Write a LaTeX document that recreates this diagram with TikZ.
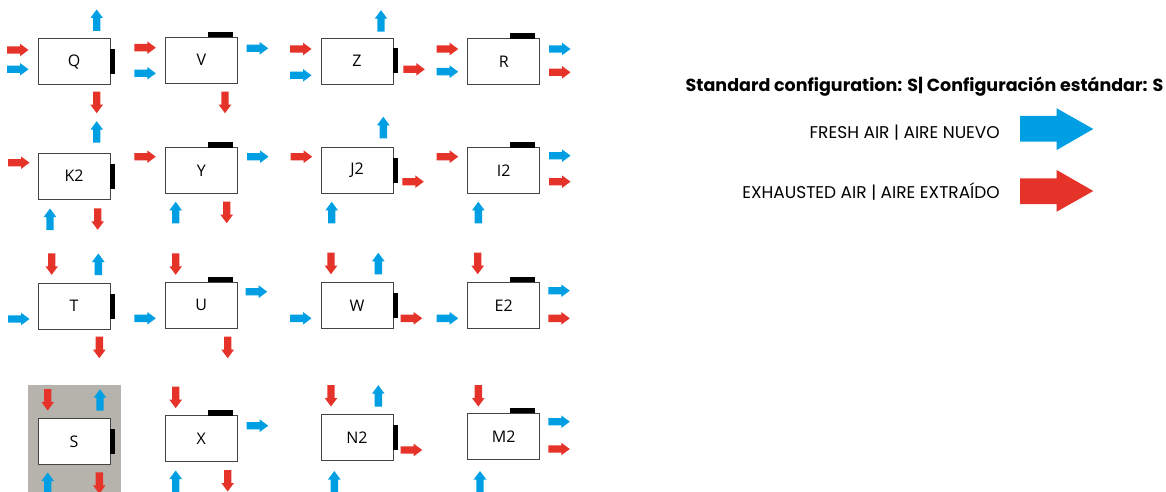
\documentclass[tikz,border=0pt]{standalone}
\usepackage{fontspec}
\setmainfont{Open Sans}
\newfontfamily\legfont{Poppins}
\definecolor{freshc}{HTML}{009FE3}
\definecolor{exhc}{HTML}{E6332A}
\definecolor{stdbg}{HTML}{B5B3AB}
\definecolor{boxline}{HTML}{444444}
\tikzset{
  fresh/.style={fill=freshc},
  exh/.style={fill=exhc},
  unitbox/.style={draw=boxline, line width=0.9pt, fill=white, minimum width=72pt, minimum height=46pt, inner sep=0pt, outer sep=0pt, font=\fontsize{16}{16}\selectfont},
  pics/arr/.style={code={\fill[pic actions] (0,-3.7)--(13,-3.7)--(13,-6.3)--(21.5,0)--(13,6.3)--(13,3.7)--(0,3.7)--cycle;}},
  pics/aru/.style={code={\fill[pic actions] (-3.7,0)--(-3.7,-13)--(-6.3,-13)--(0,-21.5)--(6.3,-13)--(3.7,-13)--(3.7,0)--cycle;}},
  pics/ard/.style={code={\fill[pic actions] (-3.7,0)--(-3.7,13)--(-6.3,13)--(0,21.5)--(6.3,13)--(3.7,13)--(3.7,0)--cycle;}},
}
\newcommand\rbar[1]{\fill[black] (#1.east) ++(0,-12.5) rectangle ++(5.3,25);}
\newcommand\tbar[1]{\fill[black] (#1.north east) ++(-4.7,0) rectangle ++(-25,-5.5);}
\begin{document}
\begin{tikzpicture}[x=1pt,y=-1pt]
\useasboundingbox (0,0) rectangle (1166,492);
% standard config background
\fill[stdbg] (28,385) rectangle (120.7,492);
% Row 1
\node[unitbox] (Q) at (74,61.7) {Q}; \rbar{Q}
\node[unitbox] (V) at (201.3,60.2) {V}; \tbar{V}
\node[unitbox] (Z) at (357,61) {Z}; \rbar{Z}
\node[unitbox] (R) at (503.7,61.7) {R}; \tbar{R}
% Row 2
\node[unitbox] (K2) at (74,176) {K2}; \rbar{K2}
\node[unitbox] (Y) at (201.3,170.7) {Y}; \tbar{Y}
\node[unitbox] (J2) at (357,170.7) {J2}; \rbar{J2}
\node[unitbox] (I2) at (503.7,170.7) {I2}; \tbar{I2}
% Row 3
\node[unitbox] (T) at (74,306) {T}; \rbar{T}
\node[unitbox] (U) at (201.3,305.3) {U}; \tbar{U}
\node[unitbox] (W) at (357,305.3) {W}; \rbar{W}
\node[unitbox] (E2) at (503.7,305.3) {E2}; \tbar{E2}
% Row 4
\node[unitbox] (S) at (74,441.3) {S}; \rbar{S}
\node[unitbox] (X) at (201.3,438.8) {X}; \tbar{X}
\node[unitbox] (N2) at (357,437.3) {N2}; \rbar{N2}
\node[unitbox] (M2) at (503.7,436.3) {M2}; \tbar{M2}
% Arrows row 1
\pic[exh] at (7,50) {arr}; \pic[fresh] at (7,69.3) {arr}; \pic[fresh] at (96.7,31) {aru}; \pic[exh] at (96.7,91.7) {ard};
\pic[exh] at (134.3,47.7) {arr}; \pic[fresh] at (134.3,73.3) {arr}; \pic[fresh] at (246.7,48.3) {arr}; \pic[exh] at (225,91.7) {ard};
\pic[exh] at (290,49) {arr}; \pic[fresh] at (290,75.3) {arr}; \pic[fresh] at (381,31.7) {aru}; \pic[exh] at (403.3,69.3) {arr};
\pic[exh] at (436.7,49) {arr}; \pic[fresh] at (436.7,71.7) {arr}; \pic[fresh] at (549,49) {arr}; \pic[exh] at (549,72.3) {arr};
% Arrows row 2
\pic[fresh] at (96.7,142.7) {aru}; \pic[exh] at (8,162.7) {arr}; \pic[fresh] at (50,230) {aru}; \pic[exh] at (97.7,208.3) {ard};
\pic[exh] at (134.3,156.7) {arr}; \pic[fresh] at (247,156.7) {arr}; \pic[fresh] at (175.7,223.3) {aru}; \pic[exh] at (226.7,201.7) {ard};
\pic[fresh] at (383.3,138.3) {aru}; \pic[exh] at (290.7,156.7) {arr}; \pic[exh] at (402.3,181.7) {arr}; \pic[fresh] at (331.7,223.3) {aru};
\pic[exh] at (436.7,156.7) {arr}; \pic[fresh] at (549,155.7) {arr}; \pic[exh] at (549,181.7) {arr}; \pic[fresh] at (478.3,223.3) {aru};
% Arrows row 3
\pic[exh] at (51.7,253.3) {ard}; \pic[fresh] at (98.3,275) {aru}; \pic[fresh] at (8,319) {arr}; \pic[exh] at (99.3,336.7) {ard};
\pic[exh] at (175.7,253.3) {ard}; \pic[fresh] at (134.3,318.3) {arr}; \pic[fresh] at (245.7,291.7) {arr}; \pic[exh] at (227.7,336.7) {ard};
\pic[exh] at (331,252.7) {ard}; \pic[fresh] at (378.3,274.3) {aru}; \pic[fresh] at (290,318.3) {arr}; \pic[exh] at (400.7,318.3) {arr};
\pic[exh] at (477.7,252.7) {ard}; \pic[fresh] at (436.7,318.3) {arr}; \pic[fresh] at (548.3,290.7) {arr}; \pic[exh] at (548.3,318.3) {arr};
% Arrows row 4
\pic[exh] at (47.7,389) {ard}; \pic[fresh] at (100,410.7) {aru}; \pic[fresh] at (47.7,494) {aru}; \pic[exh] at (99.3,472.3) {ard};
\pic[exh] at (175.7,386.7) {ard}; \pic[fresh] at (246.7,425.7) {arr}; \pic[fresh] at (175.7,492) {aru}; \pic[exh] at (227.7,470) {ard};
\pic[exh] at (331,385) {ard}; \pic[fresh] at (378.3,406.7) {aru}; \pic[exh] at (400.7,450) {arr}; \pic[fresh] at (334.3,492.5) {aru};
\pic[exh] at (478.3,385) {ard}; \pic[fresh] at (548.3,421.7) {arr}; \pic[exh] at (548.3,449) {arr}; \pic[fresh] at (480,492.5) {aru};
% Legend
\node[anchor=base east, inner sep=0pt, font=\legfont\bfseries\fontsize{17.5}{17.5}\selectfont] (title) at (1163.5,91.7) {Standard configuration: S| Configuración estándar: S};
\node[anchor=base east, inner sep=0pt, font=\legfont\fontsize{17}{17}\selectfont] (freshlbl) at (1000,138.3) {FRESH AIR | AIRE NUEVO};
\node[anchor=base east, inner sep=0pt, font=\legfont\fontsize{17}{17}\selectfont] (exhlbl) at (1000,198.3) {EXHAUSTED AIR | AIRE EXTRAÍDO};
\fill[freshc] (1020,116)--(1056.7,116)--(1056.7,108.3)--(1093.3,129)--(1056.7,150)--(1056.7,141.7)--(1020,141.7)--cycle;
\fill[exhc] (1020,178.3)--(1056.7,178.3)--(1056.7,170)--(1093.3,191)--(1056.7,211.7)--(1056.7,204)--(1020,204)--cycle;
\end{tikzpicture}
\end{document}
